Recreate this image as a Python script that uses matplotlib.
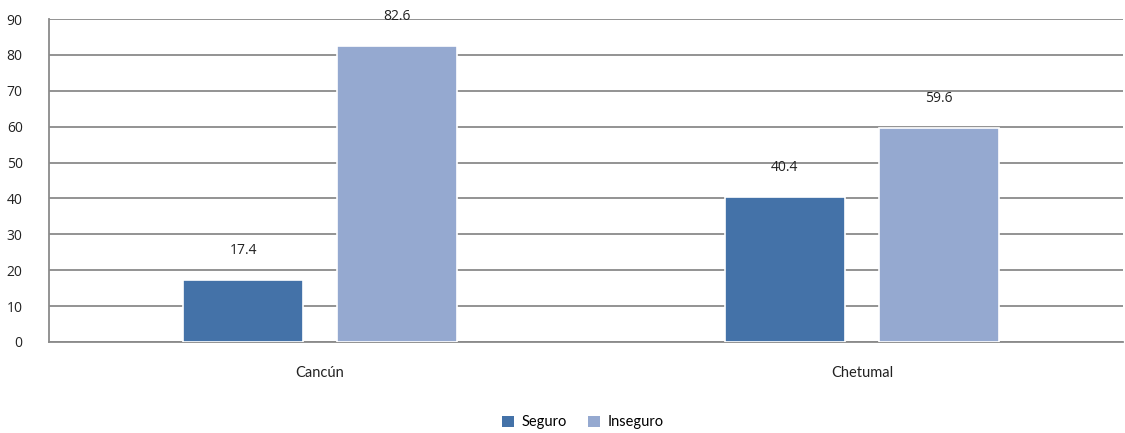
import matplotlib
matplotlib.use("Agg")
import matplotlib.pyplot as plt
import numpy as np
from matplotlib.patches import Patch

categories = ["Cancún", "Chetumal"]
series_names = ["Seguro", "Inseguro"]
seguro = [17.4, 40.4]
inseguro = [82.6, 59.6]
yticks = [0, 10, 20, 30, 40, 50, 60, 70, 80, 90]

colors = ["#4472A8", "#95A9D0"]

fig = plt.figure(figsize=(11.25, 4.33), dpi=100)
ax = fig.add_axes([0.0436, 0.2102, 0.9544, 0.7459])

x = np.arange(len(categories))
w = 0.2214
off = 0.142
for vals, o, c in [(seguro, -off, colors[0]), (inseguro, off, colors[1])]:
    bars = ax.bar(x + o, vals, width=w, color=c, edgecolor="white", linewidth=1.2, zorder=3)
    for b, v in zip(bars, vals):
        ax.annotate(f"{v:.1f}", (b.get_x() + b.get_width() / 2, v), xytext=(0, 21),
                    textcoords="offset points", ha="center", va="center",
                    fontsize=10, family="Open Sans", color="#222222")

ax.set_xlim(-0.5, 1.4815)
ax.set_ylim(0, 90)
ax.set_yticks(yticks)
ax.set_yticklabels([str(t) for t in yticks], family="Open Sans", fontsize=10, color="#222222")
ax.tick_params(axis="y", length=0, pad=19)
ax.tick_params(axis="x", length=0, pad=17)
ax.set_xticks(x)
ax.set_xticklabels(categories, family="Lato", fontsize=10.5, color="#222222")
ax.grid(axis="y", color="#8a8a8a", linewidth=1.3, zorder=0)
for s in ["top", "right"]:
    ax.spines[s].set_visible(False)
for s in ["left", "bottom"]:
    ax.spines[s].set_color("#8a8a8a")
    ax.spines[s].set_linewidth(1.3)

handles = [Patch(facecolor=c, edgecolor="none") for c in colors]
leg = fig.legend(handles, series_names, loc="center", bbox_to_anchor=(0.518, 0.025), ncol=2,
                 frameon=False, prop={"family": "Lato", "size": 10.5}, handlelength=0.8,
                 handleheight=0.8, columnspacing=1.5, handletextpad=0.5)

fig.savefig("out.png", dpi=100)
